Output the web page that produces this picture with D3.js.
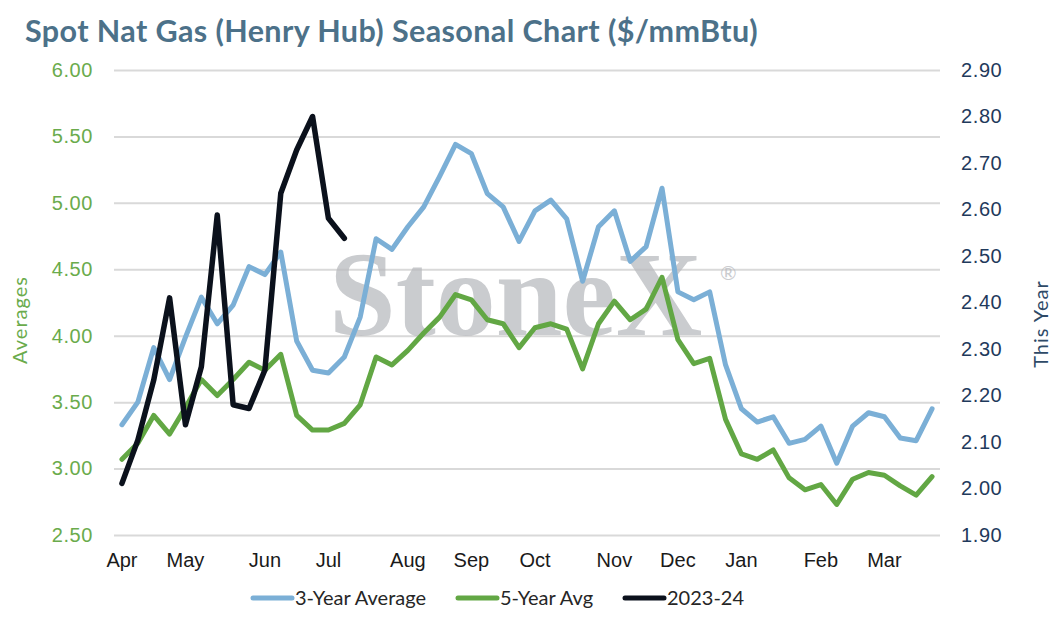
<!DOCTYPE html>
<html>
<head>
<meta charset="utf-8">
<script src="https://cdn.jsdelivr.net/npm/d3@7"></script>
<style>
  body { margin: 0; background: #fff; }
  svg { display: block; font-family: Lato, "Open Sans", sans-serif; }
</style>
</head>
<body>
<div id="chart"></div>
<script>
// weekly points, Apr -> Mar (52 weeks)
const weeks = d3.range(52);
const monthLabels = ["Apr", "May", "Jun", "Jul", "Aug", "Sep", "Oct", "Nov", "Dec", "Jan", "Feb", "Mar"];
const monthWeeks = [0, 4, 9, 13, 18, 22, 26, 31, 35, 39, 44, 48];

const avg3 = [3.33, 3.50, 3.91, 3.67, 3.99, 4.29, 4.09, 4.23, 4.52, 4.46, 4.63, 3.96, 3.74, 3.72, 3.84, 4.14,
  4.73, 4.65, 4.82, 4.97, 5.20, 5.44, 5.37, 5.07, 4.97, 4.71, 4.94, 5.02, 4.88, 4.41, 4.82, 4.94,
  4.56, 4.67, 5.11, 4.33, 4.27, 4.33, 3.78, 3.45, 3.35, 3.39, 3.19, 3.22, 3.32, 3.04, 3.32, 3.42,
  3.39, 3.23, 3.21, 3.45];
const avg5 = [3.07, 3.19, 3.40, 3.26, 3.46, 3.67, 3.55, 3.67, 3.80, 3.74, 3.86, 3.40, 3.29, 3.29, 3.34, 3.48,
  3.84, 3.78, 3.89, 4.02, 4.14, 4.31, 4.27, 4.12, 4.09, 3.91, 4.06, 4.09, 4.05, 3.75, 4.09, 4.26,
  4.12, 4.20, 4.44, 3.97, 3.79, 3.83, 3.37, 3.11, 3.07, 3.14, 2.93, 2.84, 2.88, 2.73, 2.92, 2.97,
  2.95, 2.87, 2.80, 2.94];
// this year, right axis
const thisYear = [2.011, 2.104, 2.233, 2.41, 2.137, 2.262, 2.588, 2.18, 2.172, 2.255, 2.635, 2.728, 2.80, 2.581, 2.538];

const leftTicks = [2.5, 3.0, 3.5, 4.0, 4.5, 5.0, 5.5, 6.0];
const rightTicks = [1.9, 2.0, 2.1, 2.2, 2.3, 2.4, 2.5, 2.6, 2.7, 2.8, 2.9];

const W = 1057, H = 617;
const margin = { top: 70, right: 117, bottom: 82, left: 114 };
const width = W - margin.left - margin.right,
  height = H - margin.top - margin.bottom;

const blue = "#7bafd6", green = "#62a744", black = "#0b111c";

const svg = d3.select("#chart").append("svg")
  .attr("width", W).attr("height", H);

// title
const title = svg.append("text")
  .attr("x", 25).attr("y", 42)
  .attr("fill", "#4c7189")
  .attr("font-weight", 700)
  .attr("font-size", 26)
  .attr("letter-spacing", 0.4)
  .text("Spot Nat Gas (Henry Hub) Seasonal Chart ($/mmBtu)");
const tw = title.node().getComputedTextLength();
title.attr("font-size", 26 * 737 / tw);

const g = svg.append("g")
  .attr("transform", "translate(" + margin.left + "," + margin.top + ")");

const x = d3.scaleBand().domain(weeks).range([0, width]).padding(0);
const xc = (i) => x(i) + x.bandwidth() / 2;
const yL = d3.scaleLinear().domain([2.5, 6.0]).range([height, 0]);
const yR = d3.scaleLinear().domain([1.9, 2.9]).range([height, 0]);

// gridlines + left axis
const leftAxis = g.append("g")
  .call(d3.axisLeft(yL).tickValues(leftTicks).tickFormat(d3.format(".2f"))
    .tickSize(-width).tickPadding(21));
leftAxis.select(".domain").remove();
leftAxis.selectAll("line").attr("stroke", "#d9d9d9").attr("stroke-width", 2);
leftAxis.selectAll("text").attr("fill", "#6aab4c").attr("font-size", 20).attr("letter-spacing", 0.6);

// right axis
const rightAxis = g.append("g")
  .attr("transform", "translate(" + width + ",0)")
  .call(d3.axisRight(yR).tickValues(rightTicks).tickFormat(d3.format(".2f"))
    .tickSize(0).tickPadding(21));
rightAxis.select(".domain").remove();
rightAxis.selectAll("text").attr("fill", "#1f3a5c").attr("font-size", 20).attr("letter-spacing", 0.6);

// bottom axis
const bottomAxis = g.append("g")
  .attr("transform", "translate(0," + height + ")")
  .call(d3.axisBottom(x).tickValues(monthWeeks)
    .tickFormat((d) => monthLabels[monthWeeks.indexOf(d)])
    .tickSize(0).tickPadding(18));
bottomAxis.select(".domain").remove();
bottomAxis.selectAll("text").attr("fill", "#1a1a1a").attr("font-size", 20);

// watermark
const wm = g.append("g").attr("opacity", 0.75);
wm.append("text")
  .attr("x", 215).attr("y", 265)
  .attr("font-family", "'Liberation Serif', 'DejaVu Serif', serif")
  .attr("font-weight", 700)
  .attr("font-size", 120)
  .attr("fill", "#b9bbbf")
  .text("StoneX");
wm.append("text")
  .attr("x", 606).attr("y", 210)
  .attr("font-size", 20)
  .attr("fill", "#b9bbbf")
  .text("®");

// axis titles
svg.append("text")
  .attr("transform", "translate(27,320) rotate(-90)")
  .attr("text-anchor", "middle")
  .attr("fill", "#6aab4c").attr("font-size", 20).attr("letter-spacing", 1)
  .text("Averages");
svg.append("text")
  .attr("transform", "translate(1048,324) rotate(-90)")
  .attr("text-anchor", "middle")
  .attr("fill", "#2e4a67").attr("font-size", 20).attr("letter-spacing", 1)
  .text("This Year");

// lines
const lineL = d3.line().x((d, i) => xc(i)).y((d) => yL(d));
const lineR = d3.line().x((d, i) => xc(i)).y((d) => yR(d));

g.append("path").datum(avg3)
  .attr("fill", "none").attr("stroke", blue).attr("stroke-width", 5)
  .attr("stroke-linejoin", "round").attr("stroke-linecap", "round")
  .attr("d", lineL);
g.append("path").datum(avg5)
  .attr("fill", "none").attr("stroke", green).attr("stroke-width", 5)
  .attr("stroke-linejoin", "round").attr("stroke-linecap", "round")
  .attr("d", lineL);
g.append("path").datum(thisYear)
  .attr("fill", "none").attr("stroke", black).attr("stroke-width", 5.5)
  .attr("stroke-linejoin", "round").attr("stroke-linecap", "round")
  .attr("d", lineR);

// legend
const legendItems = [
  { name: "3-Year Average", color: blue, x: 253 },
  { name: "5-Year Avg", color: green, x: 458 },
  { name: "2023-24", color: black, x: 625 }
];
const legend = svg.append("g");
legendItems.forEach((d) => {
  legend.append("line")
    .attr("x1", d.x).attr("x2", d.x + 39)
    .attr("y1", 598).attr("y2", 598)
    .attr("stroke", d.color).attr("stroke-width", 5)
    .attr("stroke-linecap", "round");
  legend.append("text")
    .attr("x", d.x + 42).attr("y", 598).attr("dy", "0.35em")
    .attr("fill", "#262626").attr("font-size", 20)
    .text(d.name);
});
</script>
</body>
</html>
